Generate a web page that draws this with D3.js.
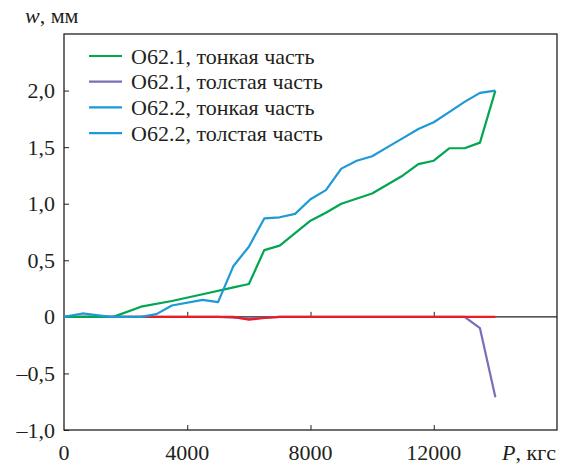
<!DOCTYPE html>
<meta charset="utf-8">
<style>
body { margin: 0; background: #fff; }
svg text { font-family: "Liberation Serif", "Noto Serif", "DejaVu Serif", "Times New Roman", serif; fill: #231f20; }
.frame { fill: none; stroke: #231f20; stroke-width: 1.3px; }
.series { fill: none; stroke-width: 2.2px; stroke-linejoin: round; }
</style>
<svg width="561" height="468"></svg>
<script src="https://cdn.jsdelivr.net/npm/d3@7/dist/d3.min.js"></script>
<script>

// P, kgf
var green_P  = [0, 1600, 2500, 3500, 4500, 5500, 6000, 6500, 7000, 8000, 8500, 9000, 10000, 11000, 11500, 12000, 12500, 13000, 13500, 14000];
var green_w  = [0, 0, 0.09, 0.14, 0.2, 0.26, 0.29, 0.59, 0.63, 0.85, 0.92, 1.0, 1.09, 1.25, 1.35, 1.38, 1.49, 1.49, 1.54, 2.0];

var purple_P = [0, 5000, 5500, 6000, 6500, 7000, 13000, 13500, 14000];
var purple_w = [0, 0, -0.008, -0.015, -0.008, 0, 0, -0.1, -0.71];

var blue_P   = [0, 600, 1500, 2500, 3000, 3500, 4500, 5000, 5500, 6000, 6500, 7000, 7500, 8000, 8500, 9000, 9500, 10000, 10500, 11000, 11500, 12000, 12500, 13000, 13500, 14000];
var blue_w   = [0, 0.03, 0, 0, 0.024, 0.1, 0.15, 0.13, 0.45, 0.62, 0.87, 0.88, 0.91, 1.04, 1.12, 1.31, 1.38, 1.42, 1.50, 1.58, 1.66, 1.72, 1.81, 1.90, 1.98, 2.0];

var red_P    = [0, 5500, 6000, 6500, 7000, 14000];
var red_w    = [0, 0, -0.025, -0.01, 0, 0];

var legendNames  = ["O62.1, тонкая часть", "O62.1, толстая часть", "O62.2, тонкая часть", "O62.2, толстая часть"];
var legendColors = ["#00a651", "#7670b8", "#1b9ad6", "#1b9ad6"];

var xTicks = [0, 4000, 8000, 12000];
var yTicks = [-1, -0.5, 0, 0.5, 1, 1.5, 2];

var svg = d3.select("svg");
var mLeft = 64, mRight = 557, mTop = 34, mBottom = 430;

var x = d3.scaleLinear().domain([0, 16000]).range([mLeft, mRight]);
var y = d3.scaleLinear().domain([-1, 2.5]).range([mBottom, mTop]);

var fmtY = function(d) {
  if (d === 0) return "0";
  return (d < 0 ? "\u2013" : "") + d3.format(".1f")(Math.abs(d)).replace(".", ",");
};

// y axis, ticks pointing inside
var yAxis = svg.append("g")
    .attr("transform", "translate(" + mLeft + ",0)")
    .call(d3.axisRight(y).tickValues(yTicks).tickSize(5).tickFormat(""));
yAxis.select(".domain").remove();
yAxis.selectAll("line").attr("stroke", "#231f20");

svg.append("g").selectAll("text")
  .data(yTicks)
  .enter().append("text")
    .attr("x", 55)
    .attr("y", function(d) { return y(d) + 7.5; })
    .attr("text-anchor", "end")
    .style("font-size", "22px")
    .text(fmtY);

// x axis at bottom and on the zero line
[mBottom, y(0)].forEach(function(yy) {
  var g = svg.append("g")
      .attr("transform", "translate(0," + yy + ")")
      .call(d3.axisTop(x).tickValues(xTicks.slice(1)).tickSize(5).tickFormat(""));
  g.select(".domain").remove();
  g.selectAll("line").attr("stroke", "#231f20");
});

svg.append("g").selectAll("text")
  .data(xTicks)
  .enter().append("text")
    .attr("x", function(d) { return x(d); })
    .attr("y", 460)
    .attr("text-anchor", "middle")
    .style("font-size", "22px")
    .text(function(d) { return d; });

// zero line and frame
svg.append("line")
    .attr("x1", mLeft).attr("x2", mRight)
    .attr("y1", y(0)).attr("y2", y(0))
    .attr("stroke", "#231f20").attr("stroke-width", 1.3);

svg.append("rect").attr("class", "frame")
    .attr("x", mLeft).attr("y", mTop)
    .attr("width", mRight - mLeft).attr("height", mBottom - mTop);

// axis titles
var yt = svg.append("text").attr("x", 25).attr("y", 23).style("font-size", "22px");
yt.append("tspan").style("font-style", "italic").text("w");
yt.append("tspan").text(", мм");

var xt = svg.append("text").attr("x", 502).attr("y", 460).style("font-size", "22px");
xt.append("tspan").style("font-style", "italic").text("P");
xt.append("tspan").text(", кгс");

// series
var line = d3.line()
    .x(function(d) { return x(d[0]); })
    .y(function(d) { return y(d[1]); });

var series = [
  { P: purple_P, w: purple_w, color: "#7670b8" },
  { P: red_P,    w: red_w,    color: "#ed1c24" },
  { P: green_P,  w: green_w,  color: "#00a651" },
  { P: blue_P,   w: blue_w,   color: "#1b9ad6" }
];

svg.append("g").selectAll("path")
  .data(series)
  .enter().append("path")
    .attr("class", "series")
    .attr("stroke", function(d) { return d.color; })
    .attr("d", function(d) { return line(d3.zip(d.P, d.w)); });

// legend
var leg = svg.append("g").selectAll("g")
  .data(legendNames)
  .enter().append("g")
    .attr("transform", function(d, i) { return "translate(89," + (56 + i * 25.7) + ")"; });

leg.append("line")
    .attr("x1", 0).attr("x2", 33)
    .attr("stroke", function(d, i) { return legendColors[i]; })
    .attr("stroke-width", 2.2);

leg.append("text")
    .attr("x", 42).attr("y", 7.5)
    .style("font-size", "22px")
    .text(function(d) { return d; });

</script>
